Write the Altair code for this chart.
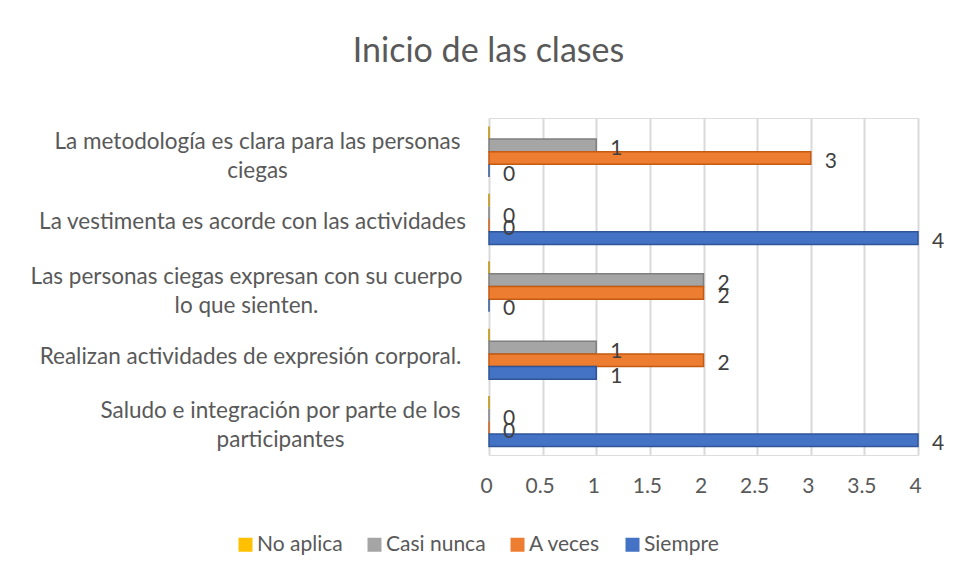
import altair as alt
import pandas as pd

categories = [
    "La metodología es clara para las personas\nciegas",
    "La vestimenta es acorde con las actividades",
    "Las personas ciegas expresan con su cuerpo\nlo que sienten.",
    "Realizan actividades de expresión corporal.",
    "Saludo e integración por parte de los\nparticipantes",
]
series = ["No aplica", "Casi nunca", "A veces", "Siempre"]
no_aplica = [0, 0, 0, 0, 0]
casi_nunca = [1, 0, 2, 1, 0]
a_veces = [3, 0, 2, 2, 0]
siempre = [0, 4, 0, 1, 4]
colors = ["#FFC000", "#A5A5A5", "#ED7D31", "#4472C4"]
edge_colors = ["#BF9000", "#7F7F7F", "#C55A11", "#2F5597"]

rows = []
for s, vals in zip(series, [no_aplica, casi_nunca, a_veces, siempre]):
    for c, v in zip(categories, vals):
        rows.append({"cat": c, "serie": s, "valor": v})
df = pd.DataFrame(rows)

FONT = "Lato"
TXT = "#595959"

label_padding = {
    "condition": [
        {"test": "indexof(datum.value, 'La metodolog') == 0", "value": 232},
        {"test": "indexof(datum.value, 'La vestimenta') == 0", "value": 237},
        {"test": "indexof(datum.value, 'Las personas') == 0", "value": 243},
        {"test": "indexof(datum.value, 'Realizan') == 0", "value": 239},
    ],
    "value": 209,
}
label_offset = {
    "condition": {"test": "indexof(datum.value, '\\n') >= 0", "value": -10},
    "value": 3,
}

y_enc = alt.Y(
    "cat:N",
    sort=categories,
    scale=alt.Scale(paddingInner=0.25, paddingOuter=0.125),
    axis=alt.Axis(
        title=None, domain=False, ticks=False, tickSize=0,
        labelAlign="center", labelPadding=label_padding, labelOffset=label_offset,
        labelFontSize=22.5, labelColor=TXT, labelFont=FONT, labelLineHeight=29,
        labelExpr="split(datum.label, '\\n')", labelLimit=600,
    ),
)
x_enc = alt.X(
    "valor:Q",
    scale=alt.Scale(domain=[0, 4], nice=False),
    axis=alt.Axis(
        title=None, values=[0, 0.5, 1, 1.5, 2, 2.5, 3, 3.5, 4], format="~g",
        domain=False, ticks=False, labelPadding=20, labelOffset=-3, labelFontSize=21,
        labelColor=TXT, labelFont=FONT, gridColor="#D9D9D9", gridWidth=2,
        labelFlush=False,
    ),
)
yoff = alt.YOffset("serie:N", sort=series, scale=alt.Scale(domain=series, paddingInner=0))

bars = alt.Chart(df).mark_bar(strokeWidth=1.5).encode(
    x=x_enc,
    y=y_enc,
    yOffset=yoff,
    color=alt.Color(
        "serie:N",
        sort=series,
        scale=alt.Scale(domain=series, range=colors),
        legend=alt.Legend(
            title=None, orient="none", direction="horizontal",
            legendX=-254, legendY=416, symbolType="square", symbolSize=196,
            symbolStrokeWidth=0, labelFontSize=21, labelColor=TXT, labelFont=FONT,
            columnPadding=21, labelOffset=1,
        ),
    ),
    stroke=alt.Stroke("serie:N", scale=alt.Scale(domain=series, range=edge_colors), legend=None),
)

labels = alt.Chart(df).transform_filter(
    alt.datum.serie != "No aplica"
).mark_text(align="left", baseline="middle", dx=14, dy=4, fontSize=21, font=FONT, color="#404040").encode(
    x=alt.X("valor:Q", scale=alt.Scale(domain=[0, 4], nice=False)),
    y=alt.Y("cat:N", sort=categories),
    yOffset=alt.YOffset("serie:N", sort=series, scale=alt.Scale(domain=series, paddingInner=0)),
    text=alt.Text("valor:Q"),
)

chart = (bars + labels).properties(
    width=429,
    height=337,
    autosize=alt.AutoSizeParams(type="none"),
    padding={"left": 481, "top": 110, "right": 30, "bottom": 118},
    title=alt.TitleParams(
        "Inicio de las clases", anchor="middle", dx=-215, fontSize=34,
        font=FONT, fontWeight="normal", color=TXT, offset=49,
    ),
).configure_view(stroke=None).configure(background="white")

chart.save("out.html", embed_options={"renderer": "svg", "actions": False})
